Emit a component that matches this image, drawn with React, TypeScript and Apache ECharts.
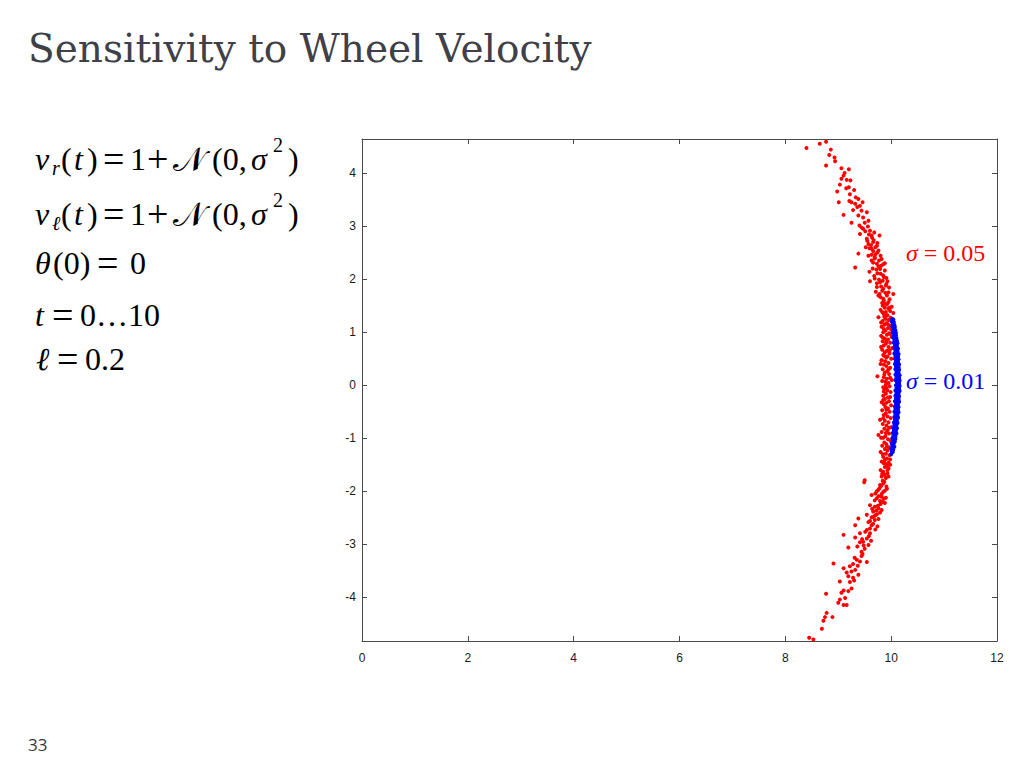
import React, { useEffect, useRef } from "react";
import * as echarts from "echarts";

const xTicks = [0, 2, 4, 6, 8, 10, 12];
const yTicks = [-4, -3, -2, -1, 0, 1, 2, 3, 4];

const redTop: number[][] = [
  [8.40, 4.47], [8.65, 4.55], [8.77, 4.59], [8.86, 4.44], [8.83, 4.34], [8.93, 4.29], [8.94, 4.22],
  [8.77, 4.14], [9.06, 4.09], [9.20, 4.07], [9.10, 3.95], [9.06, 3.89], [9.16, 3.87], [9.23, 3.86],
  [9.03, 3.78], [9.20, 3.73], [9.15, 3.71], [9.30, 3.68], [8.98, 3.65], [9.22, 3.60], [9.33, 3.54],
  [9.38, 3.51], [9.21, 3.47], [9.25, 3.45], [9.32, 3.42], [9.41, 3.38], [9.01, 3.45], [9.36, 3.36],
  [9.44, 3.29], [9.28, 3.30], [9.54, 3.26], [9.10, 3.21], [9.38, 3.20], [9.47, 3.16], [9.57, 3.10],
  [9.50, 3.06], [9.40, 3.01], [9.25, 3.06], [9.47, 2.95], [9.60, 2.91], [9.41, 2.85], [9.63, 2.82],
  [9.54, 2.76], [9.67, 2.73], [9.57, 2.66], [9.73, 2.63], [9.63, 2.57], [9.76, 2.54], [9.38, 2.48],
  [9.57, 2.44], [9.69, 2.41], [9.82, 2.38], [9.63, 2.35], [9.73, 2.29], [9.32, 2.22], [9.59, 2.14],
  [9.79, 2.19], [9.85, 2.07], [9.69, 2.01], [9.79, 1.94], [9.91, 1.91], [9.60, 1.96], [9.73, 1.85],
  [9.85, 1.82], [9.95, 1.75], [10.04, 1.72], [9.76, 1.69], [9.85, 1.63], [9.95, 1.57], [9.88, 1.54],
  [9.66, 2.70], [9.78, 2.82], [9.70, 2.47], [9.81, 2.25], [9.74, 2.11], [9.86, 2.04], [9.77, 1.99],
  [9.90, 1.88], [9.83, 1.78], [9.92, 1.69], [9.80, 1.66], [9.86, 1.60], [9.52, 2.60], [9.68, 2.88],
  [9.88, 2.30], [9.46, 3.45], [9.12, 4.00], [9.65, 2.20], [9.93, 1.96], [9.71, 1.76],
  [9.83, 1.55], [9.97, 1.62], [9.78, 1.72], [9.89, 1.74], [9.96, 1.84], [9.81, 1.86], [9.73, 1.92],
  [9.84, 1.97], [9.91, 2.02], [9.68, 2.06], [9.80, 2.10], [9.88, 2.16], [9.72, 2.18], [9.76, 2.24],
  [9.85, 2.28], [9.66, 2.31], [9.77, 2.35], [9.69, 2.39], [9.80, 2.44], [9.63, 2.46], [9.74, 2.50],
  [9.66, 2.53], [9.59, 2.58], [9.70, 2.60], [9.62, 2.64], [9.74, 2.68], [9.55, 2.72], [9.64, 2.78],
  [9.58, 2.84], [9.51, 2.90], [9.44, 2.97], [9.56, 2.99],
];

const redMid: number[][] = [
  [9.92, 1.52], [9.84, 1.50], [10.01, 1.48], [9.88, 1.46], [9.95, 1.44], [9.80, 1.42], [9.98, 1.40],
  [9.90, 1.38], [10.04, 1.36], [9.86, 1.34], [9.93, 1.32], [9.76, 1.28], [9.99, 1.27], [9.89, 1.25],
  [9.95, 1.23], [9.84, 1.21], [10.02, 1.19], [9.91, 1.17], [9.87, 1.14], [9.97, 1.12], [9.82, 1.10],
  [9.94, 1.08], [10.00, 1.05], [9.89, 1.03], [9.85, 1.00], [9.96, 0.98], [9.92, 0.95], [9.81, 0.93],
  [10.01, 0.91], [9.88, 0.88], [9.94, 0.86], [9.84, 0.83], [9.98, 0.80], [9.90, 0.78], [9.86, 0.75],
  [9.95, 0.72], [10.02, 0.70], [9.83, 0.67], [9.92, 0.65], [9.88, 0.62], [9.97, 0.60], [9.85, 0.57],
  [9.93, 0.54], [9.82, 0.47], [10.00, 0.50], [9.89, 0.45], [9.95, 0.42], [9.86, 0.39], [9.91, 0.36],
  [9.98, 0.33], [9.84, 0.30], [9.93, 0.27], [9.88, 0.24], [9.96, 0.21], [9.74, 0.17], [9.86, 0.15],
  [9.92, 0.12], [10.01, 0.10], [9.89, 0.07], [9.95, 0.04], [9.85, -0.04], [9.90, 0.01], [9.97, -0.02],
  [9.87, -0.07], [9.93, -0.10], [9.99, -0.13], [9.85, -0.20], [9.90, -0.16], [9.94, -0.23], [9.85, -0.28],
  [9.88, -0.26], [9.96, -0.30], [9.91, -0.33], [9.86, -0.36], [10.00, -0.38], [9.89, -0.41], [9.94, -0.44],
  [9.83, -0.47], [9.97, -0.50], [9.90, -0.53], [9.86, -0.56], [9.93, -0.59], [9.99, -0.62], [9.79, -0.65],
  [9.88, -0.67], [9.95, -0.70], [9.84, -0.73], [9.91, -0.76], [10.00, -0.79], [9.87, -0.82], [9.93, -0.85],
  [9.82, -0.88], [9.96, -0.91], [9.76, -0.94], [9.89, -0.96], [9.85, -0.99], [9.94, -1.02], [9.99, -1.05],
  [9.87, -1.08], [9.91, -1.11], [9.83, -1.14], [9.96, -1.17], [9.88, -1.20], [9.93, -1.23], [9.80, -1.26],
  [9.90, -1.29], [9.97, -1.32], [9.85, -1.35], [9.92, -1.38], [9.88, -1.41], [9.82, -1.44], [9.95, -1.46],
  [9.89, -1.48], [9.82, 0.47], [9.87, 1.29], [9.91, 0.52], [9.86, -0.12], [9.90, -0.90],
  [9.97, 1.46], [9.83, 1.38], [9.90, 1.30], [9.81, 1.18], [9.94, 1.15], [9.86, 1.06], [9.99, 0.96],
  [9.84, 0.90], [9.91, 0.82], [9.81, 0.72], [9.97, 0.66], [9.87, 0.55], [9.80, 0.40], [9.95, 0.30],
  [9.87, 0.20], [9.98, 0.14], [9.83, 0.08], [9.91, -0.05], [9.98, -0.22], [9.82, -0.32], [9.91, -0.46],
  [9.85, -0.62], [9.96, -0.80], [9.81, -0.99], [9.92, -1.16], [9.84, -1.30], [9.98, -1.40], [9.86, -1.47],
];

const redBottom: number[][] = [
  [9.88, -1.54], [9.95, -1.57], [9.98, -1.50], [9.85, -1.63], [9.93, -1.66], [9.82, -1.72], [9.90, -1.75],
  [9.50, -1.79], [9.49, -1.83], [9.85, -1.85], [9.79, -1.88], [9.91, -1.91], [9.76, -1.97], [9.85, -2.01],
  [9.63, -2.07], [9.82, -2.10], [9.73, -2.13], [9.79, -2.18], [9.88, -2.22], [9.60, -2.26], [9.69, -2.29],
  [9.76, -2.32], [9.82, -2.35], [9.66, -2.38], [9.73, -2.43], [9.54, -2.44], [9.63, -2.49], [9.38, -2.51],
  [9.69, -2.54], [9.57, -2.58], [9.32, -2.64], [9.63, -2.64], [9.74, -2.66], [9.54, -2.73], [9.60, -2.79],
  [9.41, -2.79], [9.10, -2.82], [9.32, -2.87], [9.54, -2.89], [9.47, -2.95], [9.41, -2.96], [9.57, -3.01],
  [9.19, -3.06], [9.50, -3.08], [9.44, -3.14], [9.35, -3.29], [9.41, -3.32], [9.54, -3.33], [8.91, -3.36],
  [9.28, -3.37], [9.22, -3.41], [9.10, -3.45], [9.32, -3.48], [9.25, -3.51], [9.38, -3.57], [9.19, -3.60],
  [9.28, -3.63], [9.03, -3.70], [9.22, -3.71], [9.25, -3.83], [9.10, -3.87], [9.06, -3.91], [9.19, -3.88],
  [8.77, -3.93], [9.13, -4.01], [9.03, -4.04], [9.00, -4.10], [9.10, -4.14], [9.16, -4.14], [8.78, -4.29],
  [8.75, -4.37], [8.89, -4.37], [8.72, -4.44], [8.69, -4.59], [8.45, -4.76], [8.53, -4.79],
  [9.92, -1.52], [9.80, -1.60], [9.88, -1.69], [9.84, -1.80], [9.78, -1.94], [9.88, -1.99], [9.70, -2.04],
  [9.80, -2.24], [9.72, -2.36], [9.67, -2.48], [9.86, -2.14], [9.60, -2.70], [9.48, -3.02], [9.44, -3.22],
  [9.93, -1.60], [9.83, -1.67], [9.95, -1.72], [9.87, -1.82], [9.81, -1.90], [9.92, -1.95], [9.73, -2.00],
  [9.82, -2.05], [9.76, -2.09], [9.90, -2.12], [9.69, -2.17], [9.84, -2.20], [9.75, -2.27], [9.64, -2.33],
  [9.79, -2.40], [9.70, -2.45], [9.76, -2.52], [9.60, -2.56], [9.66, -2.61], [9.70, -2.72], [9.51, -2.76],
  [9.58, -2.84], [9.45, -2.90], [9.62, -2.93], [9.36, -3.04], [9.46, -3.18], [9.31, -3.25], [9.37, -3.40],
  [9.16, -3.53], [9.30, -3.68],
];

const blue: number[][] = [
  [10.02, 1.25], [10.04, 1.24], [10.01, 1.20], [10.05, 1.19], [10.03, 1.15], [10.06, 1.14], [10.02, 1.10],
  [10.07, 1.10], [10.04, 1.05], [10.08, 1.04], [10.03, 1.00], [10.07, 1.00], [10.09, 0.99], [10.05, 0.95],
  [10.09, 0.94], [10.04, 0.90], [10.08, 0.90], [10.10, 0.89], [10.06, 0.85], [10.11, 0.84], [10.05, 0.80],
  [10.09, 0.80], [10.12, 0.79], [10.07, 0.75], [10.11, 0.74], [10.06, 0.70], [10.10, 0.70], [10.13, 0.69],
  [10.08, 0.65], [10.12, 0.64], [10.06, 0.60], [10.10, 0.60], [10.14, 0.59], [10.08, 0.55], [10.13, 0.54],
  [10.07, 0.50], [10.11, 0.50], [10.14, 0.49], [10.09, 0.45], [10.13, 0.44], [10.07, 0.40], [10.12, 0.40],
  [10.15, 0.39], [10.09, 0.35], [10.14, 0.34], [10.08, 0.30], [10.12, 0.30], [10.15, 0.29], [10.10, 0.25],
  [10.14, 0.24], [10.08, 0.20], [10.12, 0.20], [10.16, 0.19], [10.10, 0.15], [10.15, 0.14], [10.08, 0.10],
  [10.13, 0.10], [10.16, 0.09], [10.11, 0.05], [10.15, 0.04], [10.09, 0.00], [10.13, 0.00], [10.16, -0.01],
  [10.10, -0.05], [10.15, -0.06], [10.08, -0.10], [10.12, -0.10], [10.16, -0.11], [10.10, -0.15], [10.14, -0.16],
  [10.08, -0.20], [10.12, -0.20], [10.15, -0.21], [10.09, -0.25], [10.14, -0.26], [10.07, -0.30], [10.11, -0.30],
  [10.15, -0.31], [10.09, -0.35], [10.13, -0.36], [10.07, -0.40], [10.11, -0.40], [10.14, -0.41], [10.08, -0.45],
  [10.13, -0.46], [10.06, -0.50], [10.10, -0.50], [10.14, -0.51], [10.08, -0.55], [10.12, -0.56], [10.06, -0.60],
  [10.10, -0.60], [10.13, -0.61], [10.07, -0.65], [10.11, -0.66], [10.05, -0.70], [10.09, -0.70], [10.12, -0.71],
  [10.06, -0.75], [10.10, -0.76], [10.04, -0.80], [10.08, -0.80], [10.11, -0.81], [10.05, -0.85], [10.09, -0.86],
  [10.03, -0.90], [10.07, -0.90], [10.10, -0.91], [10.04, -0.95], [10.08, -0.96], [10.02, -1.00], [10.06, -1.00],
  [10.08, -1.01], [10.03, -1.05], [10.07, -1.06], [10.01, -1.10], [10.05, -1.10], [10.02, -1.15], [10.06, -1.16],
  [10.00, -1.20], [10.04, -1.21], [10.01, -1.25], [10.03, -1.26], [10.00, -1.30],
];

const SERIF = "'Liberation Serif', 'Times New Roman', serif";
const FS = 32;

function txt(text: string, x: number, y: number, opts: any = {}) {
  const size = opts.size ?? FS;
  const italic = opts.italic ? "italic " : "";
  const family = opts.family ?? SERIF;
  return {
    type: "text",
    x,
    y,
    silent: true,
    style: {
      text,
      fill: opts.color ?? "#000000",
      font: `${italic}${size}px ${family}`,
      align: opts.align ?? "left",
      verticalAlign: "middle",
      textAlign: opts.align ?? "left",
      textVerticalAlign: "middle",
    },
  };
}

function velocityLine(cy: number, sub: string) {
  return [
    txt("v", 35, cy, { italic: true }),
    txt(sub, 52, cy + 9, { italic: true, size: 20 }),
    txt("(", 61, cy),
    txt("t", 74, cy, { italic: true }),
    txt(")", 87, cy),
    txt("=", 103, cy, { size: 38 }),
    txt("1", 130, cy),
    txt("+", 147, cy, { size: 38 }),
    txt("\u{1D4A9}", 173, cy, { family: "'DejaVu Serif', 'Noto Sans', serif", size: 34 }),
    txt("(0,", 212, cy),
    txt("\u03C3", 251, cy, { italic: true }),
    txt("2", 273, cy - 14, { size: 20 }),
    txt(")", 288, cy),
  ];
}

export default function App() {
  const ref = useRef<HTMLDivElement>(null);
  useEffect(() => {
    if (!ref.current) return;
    const chart = echarts.init(ref.current, undefined, { renderer: "svg" });
    const axisCommon = {
      type: "value",
      splitLine: { show: false },
      axisLine: { show: true, onZero: false, lineStyle: { color: "#4a4a4a", width: 1 } },
      axisTick: { show: true, inside: true, length: 5, lineStyle: { color: "#4a4a4a" } },
    };
    const labelStyle = {
      color: "#1a1a1a",
      fontFamily: "'Liberation Sans', Arial, sans-serif",
      fontSize: 12,
    };
    const mark = { symbol: "circle", symbolSize: 4 };
    chart.setOption({
      animation: false,
      backgroundColor: "#ffffff",
      grid: { left: 362, right: 27, top: 139, bottom: 127, containLabel: false },
      xAxis: [
        {
          ...axisCommon,
          position: "bottom",
          min: 0,
          max: 12,
          interval: 2,
          axisLabel: { ...labelStyle, margin: 11, customValues: xTicks },
          axisTick: { ...axisCommon.axisTick, customValues: xTicks },
        },
        {
          ...axisCommon,
          position: "top",
          min: 0,
          max: 12,
          interval: 2,
          axisLabel: { show: false },
          axisTick: { ...axisCommon.axisTick, customValues: xTicks },
        },
      ],
      yAxis: [
        {
          ...axisCommon,
          position: "left",
          min: -4.82,
          max: 4.64,
          axisLabel: { ...labelStyle, margin: 6, customValues: yTicks },
          axisTick: { ...axisCommon.axisTick, customValues: yTicks },
        },
        {
          ...axisCommon,
          position: "right",
          min: -4.82,
          max: 4.64,
          axisLabel: { show: false, customValues: yTicks },
          axisTick: { ...axisCommon.axisTick, customValues: yTicks },
        },
      ],
      series: [
        {
          name: "σ = 0.05",
          type: "scatter",
          xAxisIndex: 0,
          yAxisIndex: 0,
          ...mark,
          itemStyle: { color: "#ff0000", opacity: 1 },
          data: [...redTop, ...redMid, ...redBottom],
          clip: true,
        },
        {
          name: "σ = 0.01",
          type: "scatter",
          xAxisIndex: 0,
          yAxisIndex: 0,
          ...mark,
          itemStyle: { color: "#0000ff", opacity: 1 },
          data: blue,
          clip: true,
        },
      ],
      graphic: [
        txt("Sensitivity to Wheel Velocity", 28, 48, {
          family: "'DejaVu Serif', Georgia, serif",
          size: 39,
          color: "#404048",
        }),
        ...velocityLine(159, "r"),
        ...velocityLine(214, "\u2113"),
        txt("\u03B8", 35, 263, { italic: true }),
        txt("(0)", 53, 263),
        txt("=", 97, 263, { size: 38 }),
        txt("0", 130, 263),
        txt("t", 35, 315, { italic: true }),
        txt("=", 52, 315, { size: 38 }),
        txt("0\u202610", 80, 315),
        txt("\u2113", 36, 359, { italic: true }),
        txt("=", 57, 359, { size: 38 }),
        txt("0.2", 85, 359),
        {
          type: "text",
          x: 906,
          y: 253,
          silent: true,
          style: {
            text: "{i|\u03C3} = 0.05",
            fill: "#ff0000",
            font: `24px ${SERIF}`,
            verticalAlign: "middle",
            textVerticalAlign: "middle",
            rich: { i: { fontStyle: "italic", fontSize: 24, fontFamily: SERIF, fill: "#ff0000", color: "#ff0000" } },
          },
        },
        {
          type: "text",
          x: 906,
          y: 381,
          silent: true,
          style: {
            text: "{i|\u03C3} = 0.01",
            fill: "#0000ff",
            font: `24px ${SERIF}`,
            verticalAlign: "middle",
            textVerticalAlign: "middle",
            rich: { i: { fontStyle: "italic", fontSize: 24, fontFamily: SERIF, fill: "#0000ff", color: "#0000ff" } },
          },
        },
        txt("33", 28, 744, { family: "'Open Sans', 'DejaVu Sans', sans-serif", size: 17, color: "#3a3a3a" }),
      ],
    });
    return () => chart.dispose();
  }, []);
  return (
    <div
      ref={ref}
      style={{ position: "fixed", left: 0, top: 0, width: 1024, height: 768, background: "#ffffff" }}
    />
  );
}
